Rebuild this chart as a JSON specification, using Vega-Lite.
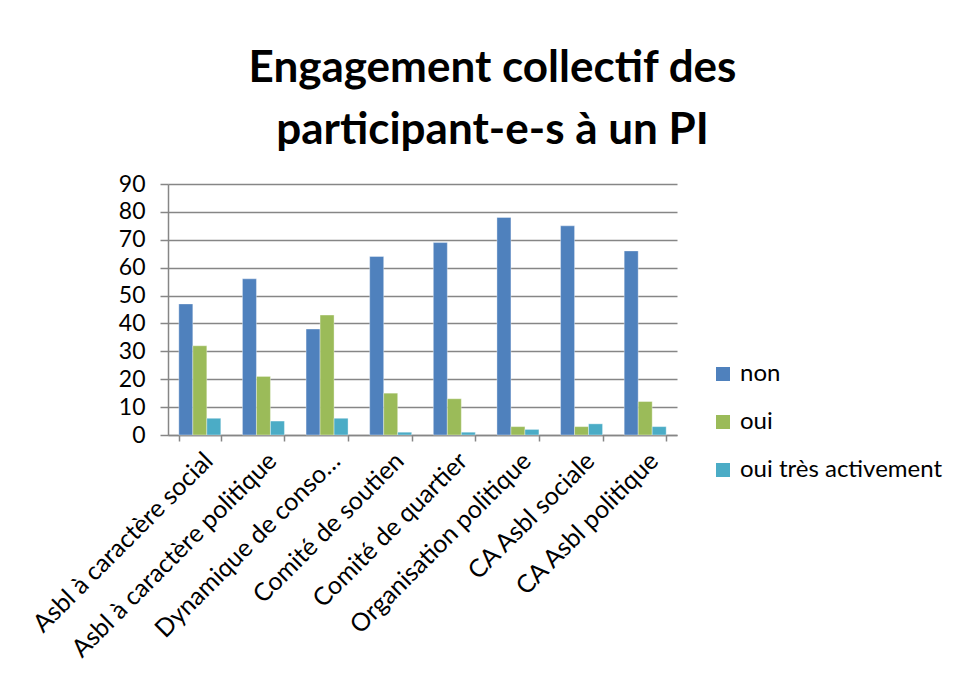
{
  "$schema": "https://vega.github.io/schema/vega-lite/v6.json",
  "width": 509,
  "height": 251,
  "autosize": {"type": "none"},
  "padding": {"left": 168, "top": 184, "right": 282, "bottom": 245},
  "background": "white",
  "title": {
    "text": ["Engagement collectif des", "participant-e-s à un PI"],
    "font": "Lato",
    "fontSize": 44,
    "fontWeight": "bold",
    "color": "black",
    "anchor": "middle",
    "frame": "group",
    "dx": 70,
    "offset": 20,
    "lineHeight": 62
  },
  "data": {
    "values": [
      {"cat": "Asbl à caractère social", "serie": "non", "val": 47},
      {"cat": "Asbl à caractère social", "serie": "oui", "val": 32},
      {"cat": "Asbl à caractère social", "serie": "oui très activement", "val": 6},
      {"cat": "Asbl à caractère politique", "serie": "non", "val": 56},
      {"cat": "Asbl à caractère politique", "serie": "oui", "val": 21},
      {"cat": "Asbl à caractère politique", "serie": "oui très activement", "val": 5},
      {"cat": "Dynamique de conso…", "serie": "non", "val": 38},
      {"cat": "Dynamique de conso…", "serie": "oui", "val": 43},
      {"cat": "Dynamique de conso…", "serie": "oui très activement", "val": 6},
      {"cat": "Comité de soutien", "serie": "non", "val": 64},
      {"cat": "Comité de soutien", "serie": "oui", "val": 15},
      {"cat": "Comité de soutien", "serie": "oui très activement", "val": 1},
      {"cat": "Comité de quartier", "serie": "non", "val": 69},
      {"cat": "Comité de quartier", "serie": "oui", "val": 13},
      {"cat": "Comité de quartier", "serie": "oui très activement", "val": 1},
      {"cat": "Organisation politique", "serie": "non", "val": 78},
      {"cat": "Organisation politique", "serie": "oui", "val": 3},
      {"cat": "Organisation politique", "serie": "oui très activement", "val": 2},
      {"cat": "CA Asbl sociale", "serie": "non", "val": 75},
      {"cat": "CA Asbl sociale", "serie": "oui", "val": 3},
      {"cat": "CA Asbl sociale", "serie": "oui très activement", "val": 4},
      {"cat": "CA Asbl politique", "serie": "non", "val": 66},
      {"cat": "CA Asbl politique", "serie": "oui", "val": 12},
      {"cat": "CA Asbl politique", "serie": "oui très activement", "val": 3}
    ]
  },
  "mark": {"type": "bar", "stroke": "white", "strokeWidth": 0.6, "strokeOpacity": 0.6},
  "encoding": {
    "x": {
      "field": "cat",
      "type": "nominal",
      "sort": null,
      "title": null,
      "scale": {"paddingInner": 0.34, "paddingOuter": 0.17},
      "axis": {
        "labelAngle": -45,
        "labelFont": "Lato",
        "labelFontSize": 25,
        "labelColor": "black",
        "labelPadding": 7,
        "labelLimit": 400,
        "tickBand": "extent",
        "tickSize": 6,
        "tickColor": "#868686",
        "tickWidth": 1.5,
        "domainColor": "#868686",
        "domainWidth": 1.5,
        "grid": false
      }
    },
    "xOffset": {"field": "serie", "type": "nominal", "scale": {"paddingInner": 0, "paddingOuter": 0}},
    "y": {
      "field": "val",
      "type": "quantitative",
      "title": null,
      "scale": {"domain": [0, 90]},
      "axis": {
        "values": [0, 10, 20, 30, 40, 50, 60, 70, 80, 90],
        "labelFont": "Lato",
        "labelFontSize": 23,
        "labelColor": "black",
        "labelPadding": 15,
        "tickSize": 8,
        "tickColor": "#868686",
        "tickWidth": 1.5,
        "domainColor": "#868686",
        "domainWidth": 1.5,
        "gridColor": "#868686",
        "gridWidth": 1.5
      }
    },
    "color": {
      "field": "serie",
      "type": "nominal",
      "title": null,
      "scale": {"domain": ["non", "oui", "oui très activement"], "range": ["#4F81BD", "#9BBB59", "#4BACC6"]},
      "legend": {
        "orient": "none",
        "legendX": 543,
        "legendY": 178,
        "symbolType": "square",
        "symbolSize": 196,
        "symbolStrokeWidth": 0,
        "labelFont": "Lato",
        "labelFontSize": 24,
        "labelColor": "black",
        "labelOffset": 5,
        "labelLimit": 400,
        "rowPadding": 24
      }
    }
  },
  "config": {"view": {"stroke": null}}
}
